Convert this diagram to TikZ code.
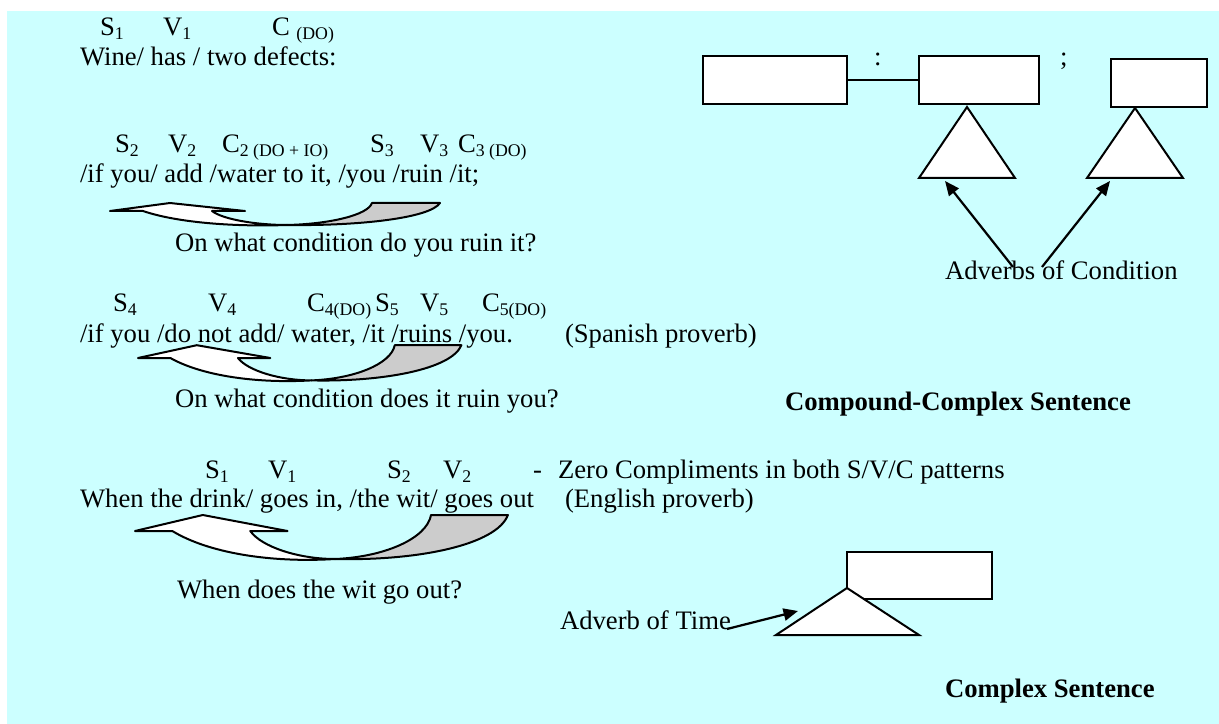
\documentclass[tikz,border=0pt,12pt]{standalone}
\usepackage{fontspec}
\setmainfont{Liberation Serif}
\usetikzlibrary{arrows.meta}
\definecolor{bgcyan}{RGB}{204,255,255}
\definecolor{arrgray}{RGB}{204,204,204}
\newcommand{\wordarrow}[4]{%
\begin{scope}[shift={(#1,#2)},xscale=#3,yscale=#4]
\path[bigarrow,fill=white] (0,0) -- (60,-8) -- (135,0) -- (102,0) .. controls (112,8) and (145,14) .. (177,14) .. controls (120,16) and (65,11) .. (33,0) -- cycle;
\path[bigarrow,fill=arrgray] (177,14) .. controls (220,13) and (258,4) .. (262,-8) -- (330,-8) .. controls (320,7) and (250,15) .. (177,14) -- cycle;
\end{scope}}
\begin{document}
\begin{tikzpicture}[x=0.45pt,y=-0.45pt,
  txt/.style={anchor=base west,inner sep=0pt,outer sep=0pt,font=\normalsize},
  boldtxt/.style={txt,font=\normalsize\bfseries},
  box/.style={draw,fill=white,line width=0.9pt,inner sep=0pt,minimum height=21.6pt},
  tri/.style={draw,fill=white,line width=0.9pt},
  ptr/.style={line width=1pt,-{Triangle[length=6.5pt,width=5.5pt]}},
  bigarrow/.style={draw,line width=0.9pt,line join=round}]
\useasboundingbox (0,0) rectangle (1219,724);
\fill[bgcyan] (7,11) rectangle (1219,724);

% ---- curved arrows (drawn first, text on top)
\wordarrow{110}{211}{1}{1}
\wordarrow{138}{358}{0.98}{1.6}
\wordarrow{135}{531}{1.13}{2.0}

% ---- sentence 1
\node[txt] (s1a) at (100,36) {S\textsubscript{1}};
\node[txt] (v1a) at (163,36) {V\textsubscript{1}};
\node[txt] (c1a) at (272,36) {C \textsubscript{(DO)}};
\node[txt] (l2) at (80,66) {Wine/ has / two defects:};

% ---- sentence 2
\node[txt] (s2) at (115,153) {S\textsubscript{2}};
\node[txt] (v2) at (168,153) {V\textsubscript{2}};
\node[txt] (c2) at (222,153) {C\textsubscript{2 (DO + IO)}};
\node[txt] (s3) at (370,153) {S\textsubscript{3}};
\node[txt] (v3) at (420,153) {V\textsubscript{3}};
\node[txt] (c3) at (458,153) {C\textsubscript{3 (DO)}};
\node[txt] (l4) at (80,183) {/if you/ add /water to it, /you /ruin /it;};
\node[txt] (q1) at (175,251) {On what condition do you ruin it?};

% ---- sentence 3
\node[txt] (s4) at (113,312) {S\textsubscript{4}};
\node[txt] (v4) at (208,312) {V\textsubscript{4}};
\node[txt] (c4) at (307,312) {C\textsubscript{4(DO)}};
\node[txt] (s5) at (375,312) {S\textsubscript{5}};
\node[txt] (v5) at (420,312) {V\textsubscript{5}};
\node[txt] (c5) at (482,312) {C\textsubscript{5(DO)}};
\node[txt] (l6) at (80,342) {/if you /do not add/ water, /it /ruins /you.};
\node[txt] (sp) at (565,342) {(Spanish proverb)};
\node[txt] (q2) at (175,407) {On what condition does it ruin you?};

% ---- sentence 4
\node[txt] (s1b) at (205,478) {S\textsubscript{1}};
\node[txt] (v1b) at (268,478) {V\textsubscript{1}};
\node[txt] (s2b) at (387,478) {S\textsubscript{2}};
\node[txt] (v2b) at (443,478) {V\textsubscript{2}};
\node[txt] (dash) at (533,478) {-};
\node[txt] (zero) at (558,478) {Zero Compliments in both S/V/C patterns};
\node[txt] (l8) at (80,507) {When the drink/ goes in, /the wit/ goes out};
\node[txt] (en) at (565,507) {(English proverb)};
\node[txt] (q3) at (177,598) {When does the wit go out?};

% ---- compound-complex diagram
\node[box,minimum width=64.8pt] (b1) at (775,80) {};
\node[box,minimum width=54pt] (b2) at (979,80) {};
\node[box,minimum width=43.2pt] (b3) at (1159,83) {};
\draw[line width=0.9pt] (b1.east) -- (b2.west);
\node[txt] (colon) at (874,66) {:};
\node[txt] (semi) at (1060,66) {;};
\draw[tri] (967,107) -- (1015,178) -- (919,178) -- cycle;
\draw[tri] (1135,108) -- (1183,178) -- (1087,178) -- cycle;
\node[txt] (adc) at (945,280) {Adverbs of Condition};
\coordinate (ac1s) at (1013,267);
\coordinate (ac1e) at (945,181);
\coordinate (ac2s) at (1042,267);
\coordinate (ac2e) at (1110,181);
\draw[ptr] (ac1s) -- (ac1e);
\draw[ptr] (ac2s) -- (ac2e);
\node[boldtxt] (cc) at (785,410) {Compound-Complex Sentence};

% ---- complex diagram
\node[box,minimum width=65.25pt,minimum height=21.15pt] (b4) at (919.5,575.5) {};
\draw[tri] (847,588) -- (919,635) -- (776,635) -- cycle;
\node[txt] (adt) at (560,629) {Adverb of Time};
\coordinate (ats) at (727,629);
\coordinate (ate) at (798,611);
\draw[ptr] (ats) -- (ate);
\node[boldtxt] (cs) at (945,697) {Complex Sentence};
\end{tikzpicture}
\end{document}
